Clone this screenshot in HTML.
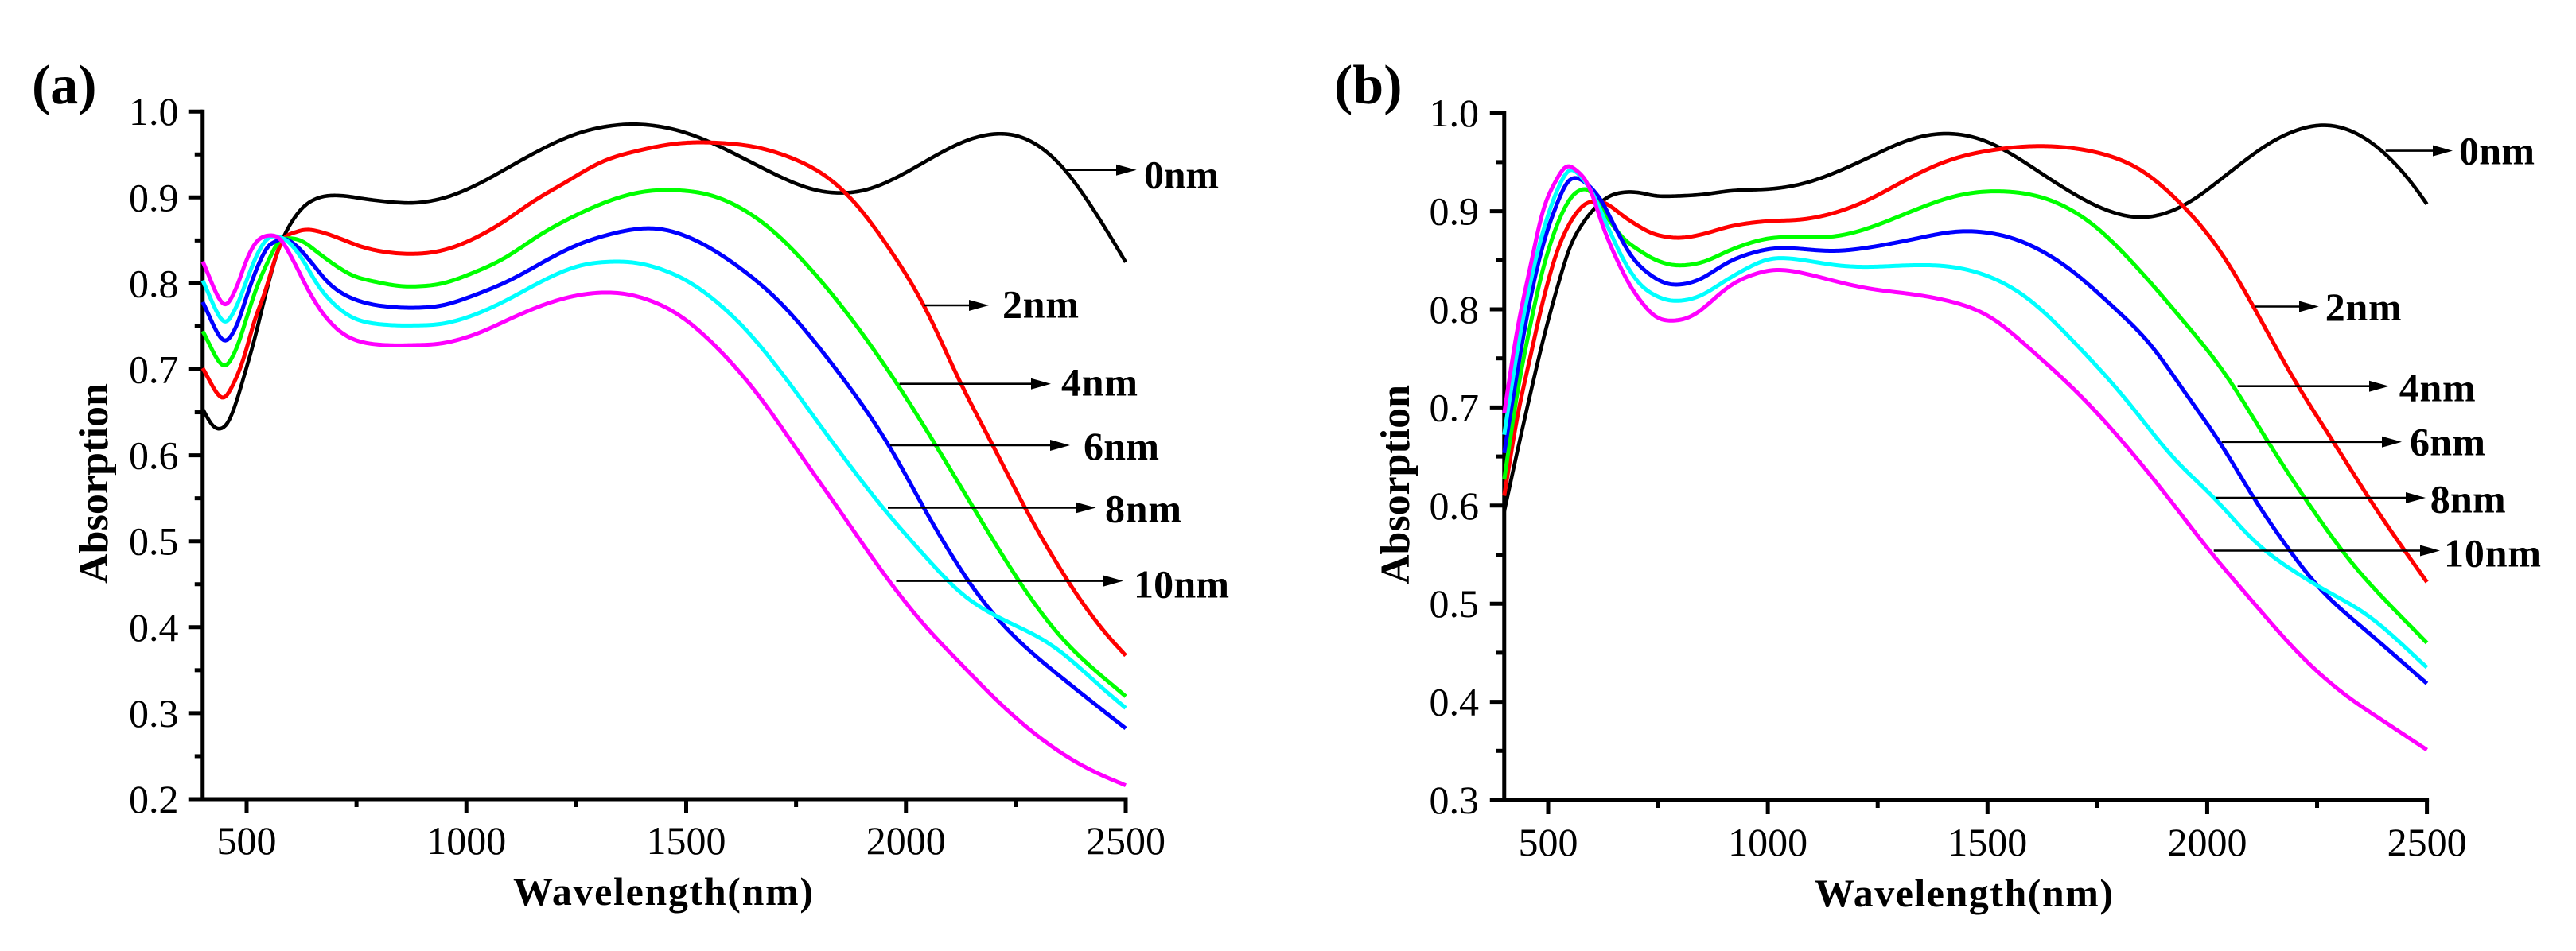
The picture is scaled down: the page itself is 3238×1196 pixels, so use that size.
<!DOCTYPE html>
<html lang="en">
<head>
<meta charset="utf-8">
<title>Absorption vs Wavelength</title>
<style>
html,body{margin:0;padding:0;background:#fff;}
body{width:3238px;height:1196px;overflow:hidden;}
svg{display:block;}
text{font-family:"Liberation Serif",serif;fill:#000;}
.tick{font-size:50px;}
.bold{font-weight:bold;font-size:50px;}
.panel{font-weight:bold;font-size:70px;}
.ann-line{stroke:#000;stroke-width:2.6;}
</style>
</head>
<body>
<svg id="chart" xmlns="http://www.w3.org/2000/svg" width="3238" height="1196" viewBox="0 0 3238 1196">
<rect width="3238" height="1196" fill="#fff"/>
<g id="panel-a"></g>
<g id="panel-b"></g>

<text class="panel" x="40" y="130">(a)</text>
<text class="panel" x="1677" y="130">(b)</text>

<text class="bold" x="645" y="1138" textLength="377" lengthAdjust="spacing">Wavelength(nm)</text>
<text class="bold" x="2281" y="1140" textLength="375" lengthAdjust="spacing">Wavelength(nm)</text>
<text class="bold" transform="translate(135 734) rotate(-90)" textLength="252" lengthAdjust="spacing" style="font-size:52px">Absorption</text>
<text class="bold" transform="translate(1771 735) rotate(-90)" textLength="251" lengthAdjust="spacing" style="font-size:52px">Absorption</text>

<g>
  <g><line class="ann-line" x1="1341" y1="213.7" x2="1410" y2="213.7"/><polygon points="1428.6,213.7 1403,206.7 1403,220.7"/><text class="bold" x="1438" y="236.4" textLength="94">0nm</text></g>
  <g><line class="ann-line" x1="1162" y1="384" x2="1225" y2="384"/><polygon points="1243,384 1218,377 1218,391"/><text class="bold" x="1260" y="399.4" textLength="96">2nm</text></g>
  <g><line class="ann-line" x1="1130.6" y1="482.7" x2="1303" y2="482.7"/><polygon points="1321,482.7 1296,475.7 1296,489.7"/><text class="bold" x="1334" y="497.4" textLength="96">4nm</text></g>
  <g><line class="ann-line" x1="1119" y1="560" x2="1327" y2="560"/><polygon points="1345,560 1320,553 1320,567"/><text class="bold" x="1362" y="578" textLength="95">6nm</text></g>
  <g><line class="ann-line" x1="1116" y1="638.5" x2="1359" y2="638.5"/><polygon points="1377.5,638.5 1352,631.5 1352,645.5"/><text class="bold" x="1389" y="656.7" textLength="96">8nm</text></g>
  <g><line class="ann-line" x1="1126.5" y1="730.6" x2="1394" y2="730.6"/><polygon points="1412,730.6 1387,723.6 1387,737.6"/><text class="bold" x="1425" y="751.7" textLength="120">10nm</text></g>
</g>
<g>
  <g><line class="ann-line" x1="2998.6" y1="189.6" x2="3065" y2="189.6"/><polygon points="3083,189.6 3058,182.6 3058,196.6"/><text class="bold" x="3091" y="206.4" textLength="95">0nm</text></g>
  <g><line class="ann-line" x1="2834" y1="385.5" x2="2897" y2="385.5"/><polygon points="2914.7,385.5 2890,378.5 2890,392.5"/><text class="bold" x="2922.7" y="403" textLength="96">2nm</text></g>
  <g><line class="ann-line" x1="2812.6" y1="485.7" x2="2985" y2="485.7"/><polygon points="3003,485.7 2978,478.7 2978,492.7"/><text class="bold" x="3015.7" y="504.7" textLength="96">4nm</text></g>
  <g><line class="ann-line" x1="2792.8" y1="555.8" x2="3001" y2="555.8"/><polygon points="3019,555.8 2994,548.8 2994,562.8"/><text class="bold" x="3029" y="572.7" textLength="95">6nm</text></g>
  <g><line class="ann-line" x1="2786" y1="626" x2="3031" y2="626"/><polygon points="3049,626 3024,619 3024,633"/><text class="bold" x="3054.7" y="644.3" textLength="95">8nm</text></g>
  <g><line class="ann-line" x1="2782.7" y1="692.5" x2="3049" y2="692.5"/><polygon points="3067,692.5 3042,685.5 3042,699.5"/><text class="bold" x="3072" y="712.3" textLength="122">10nm</text></g>
</g>
</svg>
<script>
// Tick values
const xMajorTicks = [500, 1000, 1500, 2000, 2500];
const xMinorTicks = [750, 1250, 1750, 2250];
const yMajorTicksA = ['0.2','0.3','0.4','0.5','0.6','0.7','0.8','0.9','1.0'];
const yMinorTicksA = [0.25,0.35,0.45,0.55,0.65,0.75,0.85,0.95];
const yMajorTicksB = ['0.3','0.4','0.5','0.6','0.7','0.8','0.9','1.0'];
const yMinorTicksB = [0.35,0.45,0.55,0.65,0.75,0.85,0.95];
const seriesNames = ['0nm','2nm','4nm','6nm','8nm','10nm'];
const seriesColors = ['#000000','#ff0000','#00ff00','#0000ff','#00ffff','#ff00ff'];

// Panel (a) wavelengths / absorption
const a0nmX = [400,422,440,458,476,494,518,542,566,584,603,627,651,681,723,771,844,890,955,1028,1120,1213,1278,1342,1387,1479,1562,1645,1738,1802,1858,1913,1987,2089,2153,2213,2264,2320,2366,2412,2458,2500];
const a0nmY = [.654,.6345,.6304,.638,.661,.692,.735,.785,.83,.854,.872,.888,.897,.9018,.9018,.898,.894,.8937,.90,.9156,.942,.967,.979,.9846,.9860,.979,.963,.9417,.918,.9066,.9045,.908,.925,.955,.970,.9755,.972,.955,.9315,.898,.8606,.8247];
const a2nmX = [400,444,470,494,518,542,566,584,608,636,668,711,759,808,871,936,1001,1084,1158,1232,1305,1387,1479,1562,1664,1756,1821,1886,1950,2006,2052,2116,2200,2273,2366,2430,2500];
const a2nmY = [.7014,.666,.683,.7137,.757,.79,.831,.8525,.859,.8626,.860,.8525,.843,.837,.8342,.837,.848,.871,.898,.919,.942,.954,.9633,.964,.9586,.943,.925,.894,.850,.8065,.766,.691,.610,.536,.455,.4075,.367];
const a4nmX = [400,447,476,500,524,548,572,596,627,663,699,741,783,844,881,945,1019,1093,1167,1232,1305,1387,1470,1572,1682,1784,1876,1978,2070,2181,2273,2366,2500];
const a4nmY = [.7445,.7035,.723,.76,.797,.8247,.848,.8525,.849,.8355,.822,.809,.803,.797,.7963,.7995,.813,.8306,.857,.875,.8925,.906,.909,.901,.8686,.8166,.759,.685,.61,.5157,.441,.380,.3195];
const a6nmX = [400,447,476,500,524,548,566,584,615,651,687,729,783,844,881,945,1019,1102,1176,1250,1324,1387,1442,1525,1618,1719,1849,1960,2043,2135,2200,2264,2366,2500];
const a6nmY = [.7784,.733,.749,.785,.8185,.843,.8487,.8525,.843,.822,.80,.785,.7757,.772,.7715,.774,.7864,.804,.8253,.845,.857,.864,.8646,.850,.82,.776,.695,.6137,.536,.458,.414,.380,.3365,.2823];
const a8nmX = [400,448,476,500,524,548,572,596,627,663,699,741,783,844,871,945,1019,1102,1176,1259,1324,1387,1479,1535,1627,1719,1830,1941,2033,2126,2200,2310,2366,2430,2500];
const a8nmY = [.8034,.7547,.772,.8035,.834,.8525,.8546,.848,.828,.797,.7757,.76,.7537,.751,.751,.7527,.7634,.783,.804,.822,.8253,.825,.81,.793,.752,.695,.617,.5427,.4886,.438,.414,.387,.3667,.3365,.306];
const a10nmX = [400,448,476,500,524,554,578,608,645,681,723,771,844,862,945,1028,1111,1195,1268,1333,1387,1479,1572,1664,1756,1849,1941,2033,2126,2218,2310,2403,2500];
const a10nmY = [.8256,.7747,.7939,.8278,.8497,.856,.851,.8247,.7877,.76,.74,.7306,.7276,.728,.73,.742,.7616,.779,.788,.79,.786,.766,.725,.671,.6035,.536,.468,.407,.357,.309,.269,.238,.216];

// Panel (b) wavelengths / absorption
const b0nmX = [400,429,459,489,520,550,580,610,640,676,712,743,784,853,917,1019,1093,1167,1241,1322,1404,1486,1564,1651,1757,1854,1951,2048,2145,2222,2275,2338,2406,2454,2500];
const b0nmY = [.594,.6535,.7129,.7696,.821,.864,.8885,.9047,.9155,.9195,.9187,.9155,.9153,.917,.921,.923,.9293,.9417,.957,.9735,.980,.974,.956,.93,.903,.8924,.906,.9386,.971,.986,.989,.981,.9594,.9357,.9072];
const b2nmX = [400,429,459,489,520,550,580,604,634,671,712,743,797,853,917,1001,1084,1167,1241,1322,1419,1535,1641,1757,1854,1951,2028,2106,2193,2290,2386,2500];
const b2nmY = [.61,.6886,.7507,.81,.8587,.8885,.906,.910,.9074,.895,.8831,.8763,.8726,.8766,.885,.89,.8915,.90,.9138,.934,.9534,.964,.9665,.9594,.9416,.903,.8616,.8024,.7313,.663,.595,.522];
const b4nmX = [400,429,459,489,520,550,577,598,634,671,712,743,788,853,917,1001,1084,1148,1222,1322,1419,1515,1632,1738,1844,1941,2038,2145,2241,2338,2500];
const b4nmY = [.6265,.7129,.783,.8425,.8858,.9128,.9223,.9195,.894,.8723,.8587,.8506,.8447,.848,.861,.8726,.8735,.8735,.8812,.899,.915,.9208,.9137,.888,.841,.7905,.737,.660,.595,.536,.46];
const b6nmX = [400,429,459,489,520,544,565,592,622,659,695,743,784,844,917,1001,1047,1148,1213,1322,1419,1486,1574,1680,1786,1874,1951,2028,2106,2193,2261,2367,2500];
const b6nmY = [.6535,.7345,.81,.8668,.9074,.93,.934,.9263,.91,.8777,.8507,.8318,.8248,.83,.85,.8617,.8626,.859,.8617,.8705,.8794,.8794,.8705,.844,.8024,.7639,.7135,.666,.607,.5507,.512,.4706,.4186];
const b8nmX = [400,429,459,489,520,547,568,598,634,671,707,743,784,844,917,1001,1056,1167,1232,1322,1419,1515,1602,1709,1806,1922,2019,2115,2251,2367,2500];
const b8nmY = [.6723,.756,.8263,.8804,.9209,.942,.9385,.9209,.8858,.8507,.8263,.8142,.8084,.813,.833,.8518,.8518,.844,.843,.845,.8438,.832,.8083,.761,.7135,.6483,.607,.5595,.518,.4884,.435];
const b10nmX = [400,429,459,489,520,541,562,592,628,665,695,743,784,834,917,982,1028,1102,1167,1241,1322,1419,1506,1593,1709,1806,1903,2000,2096,2212,2309,2406,2500];
const b10nmY = [.694,.7777,.8425,.902,.933,.946,.9425,.9263,.8804,.8425,.818,.7926,.7882,.7944,.8254,.8378,.841,.8347,.827,.82,.816,.808,.7935,.761,.7135,.666,.613,.5565,.506,.447,.4084,.379,.351];

const seriesA = [[a0nmX,a0nmY],[a2nmX,a2nmY],[a4nmX,a4nmY],[a6nmX,a6nmY],[a8nmX,a8nmY],[a10nmX,a10nmY]];
const seriesB = [[b0nmX,b0nmY],[b2nmX,b2nmY],[b4nmX,b4nmY],[b6nmX,b6nmY],[b8nmX,b8nmY],[b10nmX,b10nmY]];

const NS = 'http://www.w3.org/2000/svg';
const STEP = 4;

// Interpolate the read-off values on a fine wavelength grid (cubic Hermite).
function resample(xs, ys) {
  const out = [];
  let seg = 0;
  const first = xs[0], last = xs[xs.length - 1];
  const n = Math.round((last - first) / STEP);
  for (let k = 0; k <= n; k++) {
    const x = first + (last - first) * k / n;
    while (seg < xs.length - 2 && x > xs[seg + 1]) seg++;
    const i0 = Math.max(seg - 1, 0), i3 = Math.min(seg + 2, xs.length - 1);
    const h = xs[seg + 1] - xs[seg];
    const m1 = (ys[seg + 1] - ys[i0]) / (xs[seg + 1] - xs[i0]);
    const m2 = (ys[i3] - ys[seg]) / (xs[i3] - xs[seg]);
    const t = (x - xs[seg]) / h;
    const t2 = t * t, t3 = t2 * t;
    const v = (2*t3 - 3*t2 + 1) * ys[seg] + (t3 - 2*t2 + t) * h * m1 +
              (-2*t3 + 3*t2) * ys[seg + 1] + (t3 - t2) * h * m2;
    out.push([x, v]);
  }
  return out;
}

// Bandwidth follows how sharp the spectrum is at each wavelength.
function bandwidth(nm) {
  if (nm < 620) return 6;
  if (nm < 1000) return 6 + (nm - 620) / 380 * 16;
  return Math.min(22 + (nm - 1000) / 200 * 10, 32);
}

function smoothSamples(samples) {
  return samples.map((s, i) => {
    const sig = bandwidth(s[0]) / STEP;
    const w = Math.min(Math.ceil(3 * sig), i, samples.length - 1 - i);
    let sum = 0, tot = 0;
    for (let j = -w; j <= w; j++) {
      const g = Math.exp(-j * j / (2 * sig * sig));
      sum += g * samples[i + j][1];
      tot += g;
    }
    return [s[0], sum / tot];
  });
}

function curvePath(xs, ys, sx, sy) {
  const pts = smoothSamples(resample(xs, ys));
  return pts.map((p, i) => (i ? 'L' : 'M') + sx(p[0]).toFixed(2) + ' ' + sy(p[1]).toFixed(2)).join('');
}

function tickLine(parent, x1, y1, x2, y2, name) {
  const el = document.createElementNS(NS, 'line');
  el.setAttribute('x1', x1);
  el.setAttribute('y1', y1);
  el.setAttribute('x2', x2);
  el.setAttribute('y2', y2);
  el.setAttribute('stroke', '#000');
  el.setAttribute('stroke-width', 5);
  
  
  parent.appendChild(el);
}

function tickText(parent, x, y, anchor, str, name) {
  const el = document.createElementNS(NS, 'text');
  el.setAttribute('class', 'tick');
  el.setAttribute('x', x);
  el.setAttribute('y', y);
  el.setAttribute('text-anchor', anchor);
  el.textContent = str;
  
  
  parent.appendChild(el);
}

function drawPanel(cfg) {
  const g = document.getElementById(cfg.id);
  const sx = nm => cfg.x500 + (nm - 500) * cfg.xScale;
  const sy = v => cfg.yBottom - (v - cfg.yMin) * cfg.yScale;
  const ax = sx(400), base = sy(cfg.yMin), right = sx(2500), top = sy(1.0);

  tickLine(g, ax, top - 2.5, ax, base + 2.5, 'y-axis-line');
  tickLine(g, ax - 2.5, base, right + 2.5, base, 'x-axis-line');

  xMajorTicks.forEach(t => {
    tickLine(g, sx(t), base, sx(t), base + 18, 'x-major-tick');
    tickText(g, sx(t), cfg.xLabelBase, 'middle', String(t), 'x-tick-label');
  });
  xMinorTicks.forEach(t => {
    tickLine(g, sx(t), base, sx(t), base + 10, 'x-minor-tick');
  });
  cfg.yMajor.forEach(t => {
    tickLine(g, ax - 18, sy(+t), ax, sy(+t), 'y-major-tick');
    tickText(g, cfg.yLabelRight, sy(+t) + 17, 'end', t, 'y-tick-label');
  });
  cfg.yMinor.forEach(t => {
    tickLine(g, ax - 10, sy(t), ax, sy(t), 'y-minor-tick');
  });

  cfg.series.forEach((s, i) => {
    const el = document.createElementNS(NS, 'path');
    el.setAttribute('d', curvePath(s[0], s[1], sx, sy));
    el.setAttribute('fill', 'none');
    el.setAttribute('stroke', seriesColors[i]);
    el.setAttribute('stroke-width', i === 0 ? 4.6 : 5);
    el.setAttribute('stroke-linejoin', 'round');
    
    
    g.appendChild(el);
  });
}

drawPanel({id:'panel-a', x500:310, xScale:0.5525, yBottom:1005, yMin:0.2, yScale:1081,
  xLabelBase:1074, yLabelRight:224.5, yMajor:yMajorTicksA, yMinor:yMinorTicksA, series:seriesA});
drawPanel({id:'panel-b', x500:1946, xScale:0.5523, yBottom:1006, yMin:0.3, yScale:1234,
  xLabelBase:1076, yLabelRight:1859, yMajor:yMajorTicksB, yMinor:yMinorTicksB, series:seriesB});
</script>
</body>
</html>
